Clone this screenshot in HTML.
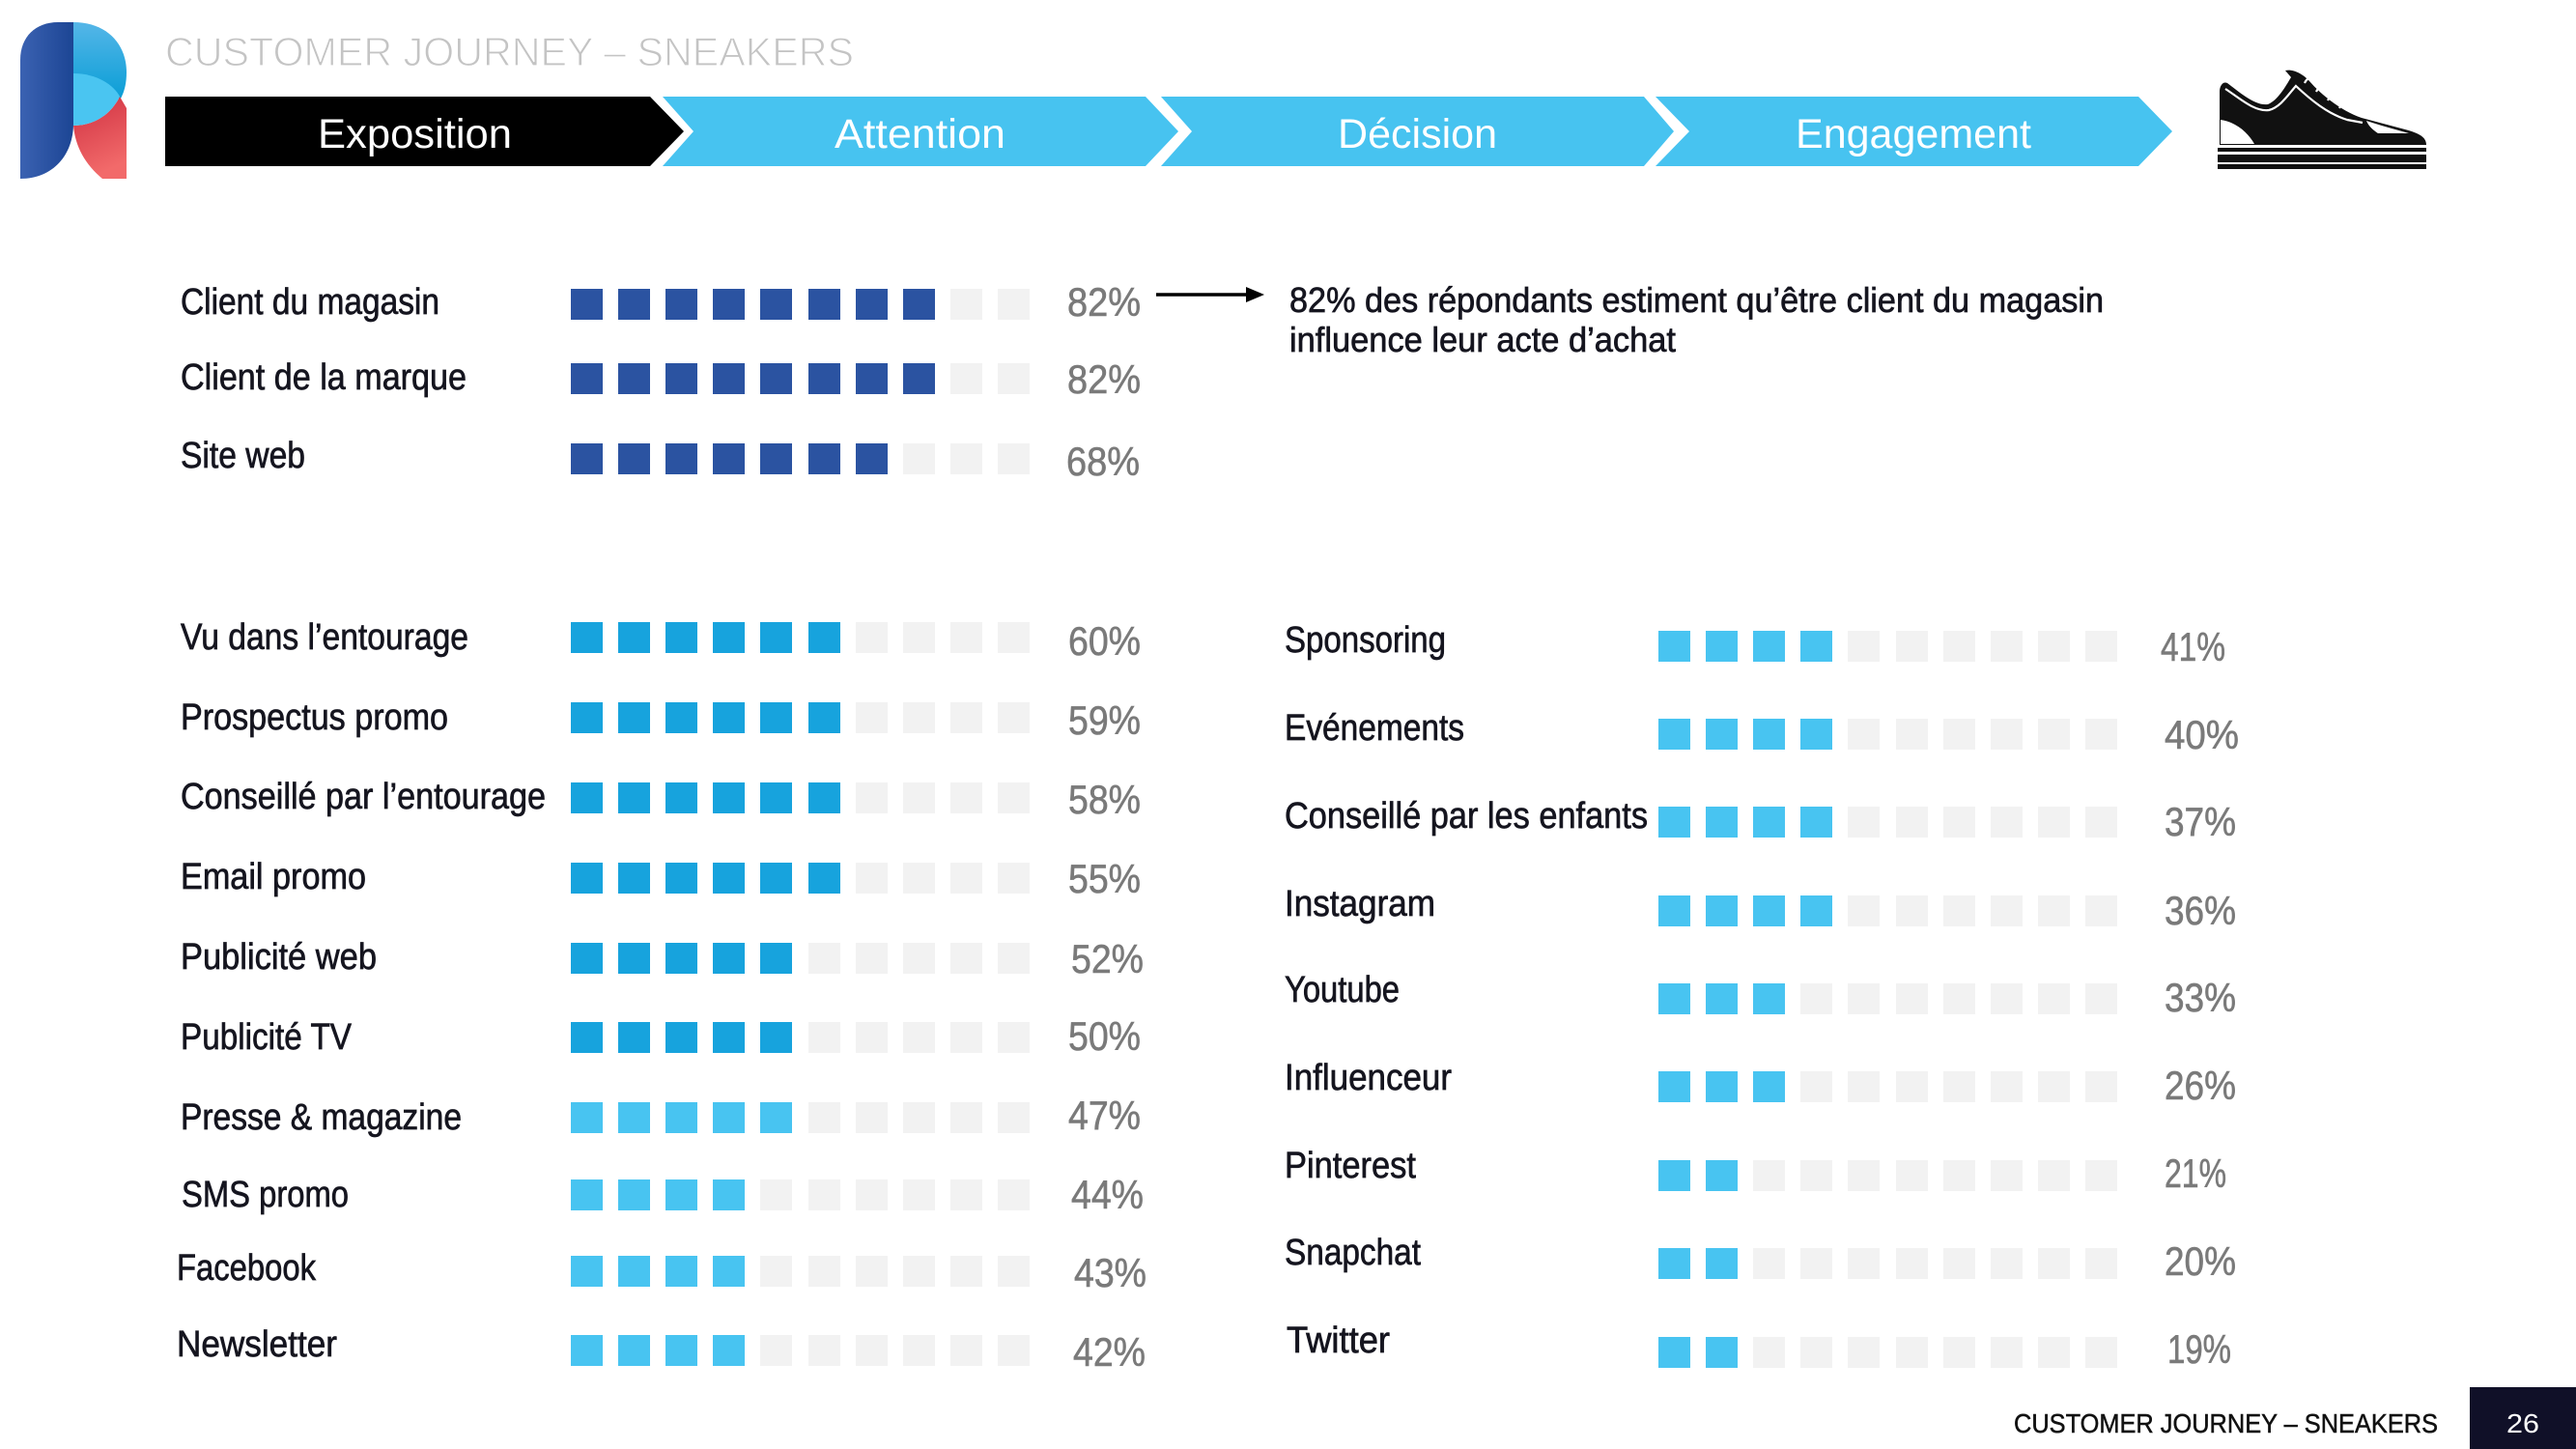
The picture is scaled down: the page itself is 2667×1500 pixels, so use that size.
<!DOCTYPE html>
<html><head><meta charset="utf-8">
<style>
html,body{margin:0;padding:0;background:#fff;}
svg{display:block;}
.lb{font-family:"Liberation Sans Narrow","Liberation Sans",sans-serif;font-size:38px;fill:#15151f;stroke:#15151f;stroke-width:0.7px;}
.pc{font-family:"Liberation Sans Narrow","Liberation Sans",sans-serif;font-size:42px;fill:#7a7a7a;stroke:#7a7a7a;stroke-width:0.6px;}
.hd{font-family:"Liberation Sans",sans-serif;font-size:43px;fill:#fff;}
</style></head>
<body>
<svg width="2667" height="1500" viewBox="0 0 2667 1500" xmlns="http://www.w3.org/2000/svg">
<defs>
<linearGradient id="gs" x1="0" y1="0" x2="1" y2="0"><stop offset="0" stop-color="#3b62b2"/><stop offset="1" stop-color="#1c4594"/></linearGradient>
<linearGradient id="gb" x1="0" y1="0" x2="0" y2="1"><stop offset="0" stop-color="#55b6e8"/><stop offset="1" stop-color="#0a9ed6"/></linearGradient>
<linearGradient id="gr" x1="0" y1="0" x2="0.3" y2="1"><stop offset="0" stop-color="#cf3041"/><stop offset="1" stop-color="#f26a6a"/></linearGradient>
</defs>
<rect width="2667" height="1500" fill="#fff"/>

<!-- Logo -->
<path d="M21,185 L21,62 C21,38 37,23 60,23 L76,23 L76,128 C76,160 55,185 21,185 Z" fill="url(#gs)"/>
<path d="M76,23 C110,23 131,45 131,75 C131,88 128,96 125,102 L76,102 Z" fill="url(#gb)"/>
<path d="M76,130 C98,130 115,118 124,100 L131,112 L131,185 L106,185 C88,170 78,152 76,130 Z" fill="url(#gr)"/>
<path d="M76,76 C100,76 118,88 124,100 C115,118 98,130 76,130 Z" fill="#4ac5f1"/>

<!-- Title -->
<text x="171" y="68" font-family="Liberation Sans, sans-serif" font-size="42" fill="#c4c4c4" stroke="#fff" stroke-width="1.2" textLength="713" lengthAdjust="spacingAndGlyphs">CUSTOMER JOURNEY – SNEAKERS</text>

<!-- Chevrons -->
<polygon points="171,100 673,100 708,136 673,172 171,172" fill="#000"/>
<polygon points="686,100 1186,100 1220,136 1186,172 686,172 718,136" fill="#47c3f0"/>
<polygon points="1202,100 1702,100 1733,136 1702,172 1202,172 1234,136" fill="#47c3f0"/>
<polygon points="1714,100 2214,100 2249,136 2214,172 1714,172 1749,136" fill="#47c3f0"/>
<text class="hd" x="329" y="153" textLength="201" lengthAdjust="spacingAndGlyphs">Exposition</text>
<text class="hd" x="864" y="153" textLength="177" lengthAdjust="spacingAndGlyphs">Attention</text>
<text class="hd" x="1385" y="153" textLength="165" lengthAdjust="spacingAndGlyphs">Décision</text>
<text class="hd" x="1859" y="153" textLength="244" lengthAdjust="spacingAndGlyphs">Engagement</text>

<!-- Shoe -->
<path d="M2298,150 L2298,95 C2298,88 2302,84 2306,86 C2318,95 2335,110 2348,108 C2358,104 2366,90 2372,80 L2366,73 C2374,71 2385,77 2391,84 C2405,100 2425,115 2445,122 L2490,134 C2505,138 2512,142 2512,150 Z" fill="#111"/>
<path d="M2304,92 C2318,101 2334,116 2349,114 C2361,111 2369,98 2377,89 C2392,103 2410,118 2430,124 L2446,127" fill="none" stroke="#fff" stroke-width="2.2"/>
<path d="M2386,86 q4,-8 8,-2 M2398,95 q4,-8 8,-2 M2410,104 q4,-8 8,-2 M2422,112 q4,-8 8,-2" fill="none" stroke="#fff" stroke-width="2.2"/>
<path d="M2299,124 C2315,126 2328,138 2334,149 L2299,149 Z" fill="#fff"/>
<path d="M2450,125 C2465,130 2480,134 2494,138 L2462,138 C2456,134 2452,130 2450,125 Z" fill="#fff"/>
<rect x="2296" y="153" width="216" height="4" fill="#111"/>
<rect x="2296" y="160" width="216" height="8" fill="#111"/>
<rect x="2296" y="170" width="216" height="5" fill="#111"/>

<!-- Top group labels -->
<text class="lb" x="187" y="325" textLength="268" lengthAdjust="spacingAndGlyphs">Client du magasin</text>
<text class="lb" x="187" y="403" textLength="296" lengthAdjust="spacingAndGlyphs">Client de la marque</text>
<text class="lb" x="187" y="484" textLength="129" lengthAdjust="spacingAndGlyphs">Site web</text>

<!-- Left group labels -->
<text class="lb" x="187" y="672" textLength="298" lengthAdjust="spacingAndGlyphs">Vu dans l’entourage</text>
<text class="lb" x="187" y="755" textLength="277" lengthAdjust="spacingAndGlyphs">Prospectus promo</text>
<text class="lb" x="187" y="837" textLength="378" lengthAdjust="spacingAndGlyphs">Conseillé par l’entourage</text>
<text class="lb" x="187" y="920" textLength="192" lengthAdjust="spacingAndGlyphs">Email promo</text>
<text class="lb" x="187" y="1003" textLength="203" lengthAdjust="spacingAndGlyphs">Publicité web</text>
<text class="lb" x="187" y="1086" textLength="177" lengthAdjust="spacingAndGlyphs">Publicité TV</text>
<text class="lb" x="187" y="1169" textLength="291" lengthAdjust="spacingAndGlyphs">Presse &amp; magazine</text>
<text class="lb" x="188" y="1249" textLength="173" lengthAdjust="spacingAndGlyphs">SMS promo</text>
<text class="lb" x="183" y="1325" textLength="144" lengthAdjust="spacingAndGlyphs">Facebook</text>
<text class="lb" x="183" y="1404" textLength="166" lengthAdjust="spacingAndGlyphs">Newsletter</text>

<!-- Right group labels -->
<text class="lb" x="1330" y="675" textLength="167" lengthAdjust="spacingAndGlyphs">Sponsoring</text>
<text class="lb" x="1330" y="766" textLength="186" lengthAdjust="spacingAndGlyphs">Evénements</text>
<text class="lb" x="1330" y="857" textLength="376" lengthAdjust="spacingAndGlyphs">Conseillé par les enfants</text>
<text class="lb" x="1330" y="948" textLength="156" lengthAdjust="spacingAndGlyphs">Instagram</text>
<text class="lb" x="1330" y="1037" textLength="119" lengthAdjust="spacingAndGlyphs">Youtube</text>
<text class="lb" x="1330" y="1128" textLength="173" lengthAdjust="spacingAndGlyphs">Influenceur</text>
<text class="lb" x="1330" y="1219" textLength="136" lengthAdjust="spacingAndGlyphs">Pinterest</text>
<text class="lb" x="1330" y="1309" textLength="141" lengthAdjust="spacingAndGlyphs">Snapchat</text>
<text class="lb" x="1332" y="1400" textLength="107" lengthAdjust="spacingAndGlyphs">Twitter</text>

<!-- Squares: top group -->
<g fill="#2b53a1">
<rect x="591" y="299" width="33" height="32"/><rect x="640" y="299" width="33" height="32"/><rect x="689" y="299" width="33" height="32"/><rect x="738" y="299" width="33" height="32"/><rect x="787" y="299" width="33" height="32"/><rect x="837" y="299" width="33" height="32"/><rect x="886" y="299" width="33" height="32"/><rect x="935" y="299" width="33" height="32"/>
<rect x="591" y="376" width="33" height="32"/><rect x="640" y="376" width="33" height="32"/><rect x="689" y="376" width="33" height="32"/><rect x="738" y="376" width="33" height="32"/><rect x="787" y="376" width="33" height="32"/><rect x="837" y="376" width="33" height="32"/><rect x="886" y="376" width="33" height="32"/><rect x="935" y="376" width="33" height="32"/>
<rect x="591" y="459" width="33" height="32"/><rect x="640" y="459" width="33" height="32"/><rect x="689" y="459" width="33" height="32"/><rect x="738" y="459" width="33" height="32"/><rect x="787" y="459" width="33" height="32"/><rect x="837" y="459" width="33" height="32"/><rect x="886" y="459" width="33" height="32"/>
</g>
<g fill="#f2f2f2">
<rect x="984" y="299" width="33" height="32"/><rect x="1033" y="299" width="33" height="32"/>
<rect x="984" y="376" width="33" height="32"/><rect x="1033" y="376" width="33" height="32"/>
<rect x="935" y="459" width="33" height="32"/><rect x="984" y="459" width="33" height="32"/><rect x="1033" y="459" width="33" height="32"/>
</g>

<g id="leftsq"></g>
<g id="rightsq"></g>

<!-- Percents top group -->
<text class="pc" x="1105" y="327" textLength="76" lengthAdjust="spacingAndGlyphs">82%</text>
<text class="pc" x="1105" y="407" textLength="76" lengthAdjust="spacingAndGlyphs">82%</text>
<text class="pc" x="1104" y="492" textLength="76" lengthAdjust="spacingAndGlyphs">68%</text>

<!-- Percents left group -->
<text class="pc" x="1106" y="678" textLength="75" lengthAdjust="spacingAndGlyphs">60%</text>
<text class="pc" x="1106" y="760" textLength="75" lengthAdjust="spacingAndGlyphs">59%</text>
<text class="pc" x="1106" y="842" textLength="75" lengthAdjust="spacingAndGlyphs">58%</text>
<text class="pc" x="1106" y="924" textLength="75" lengthAdjust="spacingAndGlyphs">55%</text>
<text class="pc" x="1109" y="1007" textLength="75" lengthAdjust="spacingAndGlyphs">52%</text>
<text class="pc" x="1106" y="1087" textLength="75" lengthAdjust="spacingAndGlyphs">50%</text>
<text class="pc" x="1106" y="1169" textLength="75" lengthAdjust="spacingAndGlyphs">47%</text>
<text class="pc" x="1109" y="1251" textLength="75" lengthAdjust="spacingAndGlyphs">44%</text>
<text class="pc" x="1112" y="1332" textLength="75" lengthAdjust="spacingAndGlyphs">43%</text>
<text class="pc" x="1111" y="1414" textLength="75" lengthAdjust="spacingAndGlyphs">42%</text>

<!-- Percents right group -->
<text class="pc" x="2237" y="684" textLength="67" lengthAdjust="spacingAndGlyphs">41%</text>
<text class="pc" x="2241" y="775" textLength="77" lengthAdjust="spacingAndGlyphs">40%</text>
<text class="pc" x="2241" y="865" textLength="74" lengthAdjust="spacingAndGlyphs">37%</text>
<text class="pc" x="2241" y="957" textLength="74" lengthAdjust="spacingAndGlyphs">36%</text>
<text class="pc" x="2241" y="1047" textLength="74" lengthAdjust="spacingAndGlyphs">33%</text>
<text class="pc" x="2241" y="1138" textLength="74" lengthAdjust="spacingAndGlyphs">26%</text>
<text class="pc" x="2241" y="1229" textLength="64" lengthAdjust="spacingAndGlyphs">21%</text>
<text class="pc" x="2241" y="1320" textLength="74" lengthAdjust="spacingAndGlyphs">20%</text>
<text class="pc" x="2244" y="1411" textLength="66" lengthAdjust="spacingAndGlyphs">19%</text>

<!-- Arrow + annotation -->
<line x1="1197" y1="305" x2="1292" y2="305" stroke="#000" stroke-width="3.5"/>
<polygon points="1290,297 1309,305 1290,313" fill="#000"/>
<text class="lb" x="1335" y="323" textLength="843" lengthAdjust="spacingAndGlyphs" style="font-size:36px">82% des répondants estiment qu’être client du magasin</text>
<text class="lb" x="1335" y="364" textLength="400" lengthAdjust="spacingAndGlyphs" style="font-size:36px">influence leur acte d’achat</text>

<!-- Footer -->
<text class="lb" x="2085" y="1483" textLength="439" lengthAdjust="spacingAndGlyphs" style="font-size:28px;fill:#111;stroke:#111;stroke-width:0.5px">CUSTOMER JOURNEY – SNEAKERS</text>
<rect x="2557" y="1436" width="110" height="64" fill="#101028"/>
<text x="2595" y="1483" font-family="Liberation Sans Narrow, Liberation Sans, sans-serif" font-size="28" fill="#fff" textLength="34" lengthAdjust="spacingAndGlyphs">26</text>
</svg>
<script>
(function(){
  var NS="http://www.w3.org/2000/svg";
  function rows(gid, x0, tops, counts, colors){
    var g=document.getElementById(gid);
    for(var r=0;r<tops.length;r++){
      for(var i=0;i<10;i++){
        var el=document.createElementNS(NS,"rect");
        el.setAttribute("x", Math.round(x0+i*49.1));
        el.setAttribute("y", tops[r]);
        el.setAttribute("width",33);
        el.setAttribute("height",32);
        el.setAttribute("fill", i<counts[r]?colors[r]:"#f2f2f2");
        g.appendChild(el);
      }
    }
  }
  var D="#17a3dd", L="#48c4f1";
  rows("leftsq",591,[644,727,810,893,976,1058,1141,1221,1300,1382],[6,6,6,6,5,5,5,4,4,4],[D,D,D,D,D,D,L,L,L,L]);
  rows("rightsq",1717,[653,744,835,927,1018,1109,1201,1292,1384],[4,4,4,4,3,3,2,2,2],[L,L,L,L,L,L,L,L,L]);
})();
</script>
</body></html>
